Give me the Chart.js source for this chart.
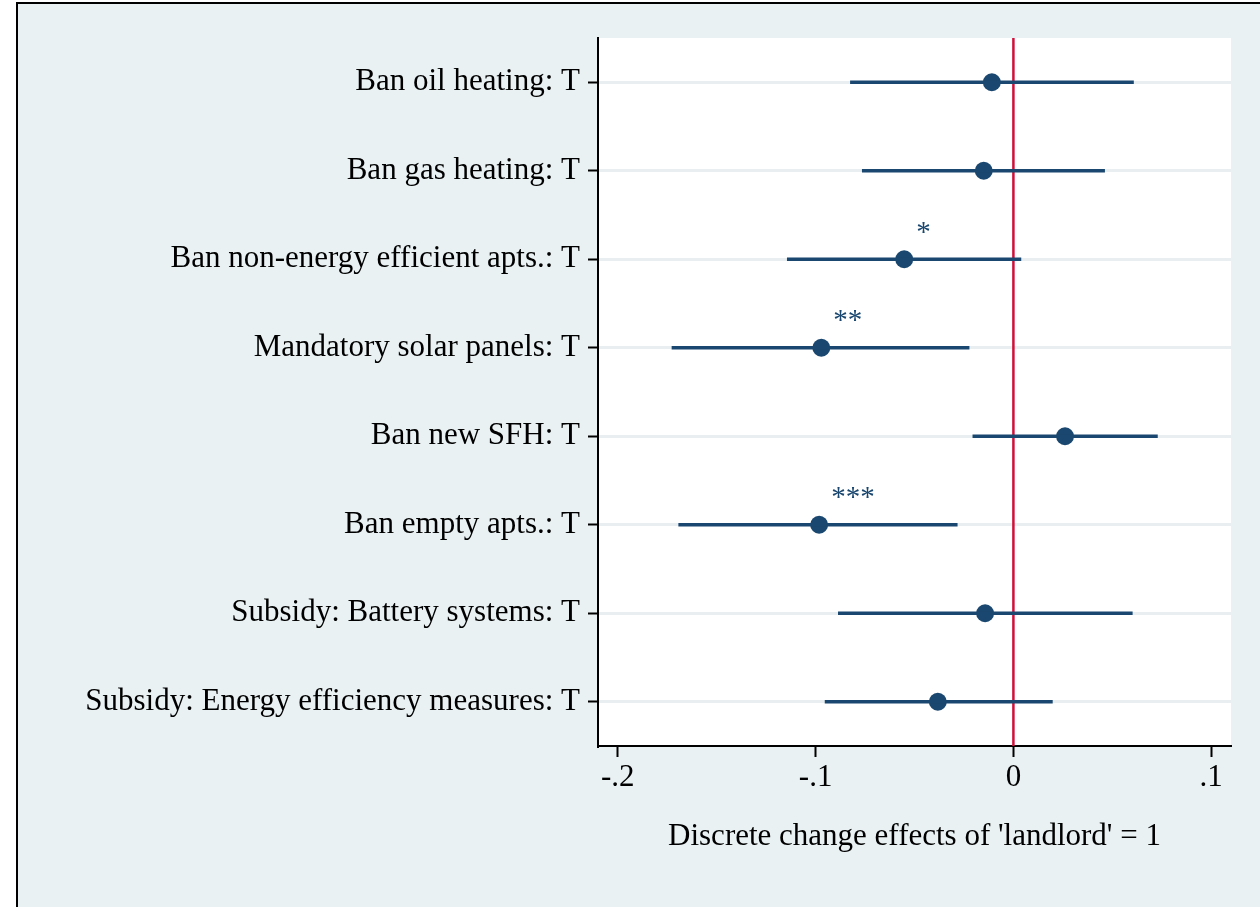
<!DOCTYPE html>
<html>
<head>
<meta charset="utf-8">
<script src="https://cdn.jsdelivr.net/npm/chart.js@4"></script>
<style>
  html, body { margin: 0; padding: 0; background: #ffffff; overflow: hidden; }
  #frame { position: absolute; left: 16px; top: 2px; width: 1300px; height: 960px;
           border: 2px solid #000; background: #e9f1f3; }
  #chart { position: absolute; left: 0; top: 0; }
</style>
</head>
<body>
<div id="frame"></div>
<canvas id="chart" width="1260" height="907"></canvas>
<script>
// policy rows, top to bottom
var labels = [
  'Ban oil heating: T',
  'Ban gas heating: T',
  'Ban non-energy efficient apts.: T',
  'Mandatory solar panels: T',
  'Ban new SFH: T',
  'Ban empty apts.: T',
  'Subsidy: Battery systems: T',
  'Subsidy: Energy efficiency measures: T'
];
var estimates = [-0.0109, -0.0150, -0.0552, -0.0971, 0.0261, -0.0982, -0.0143, -0.0382];
var lower     = [-0.0824, -0.0764, -0.1143, -0.1726, -0.0205, -0.1692, -0.0885, -0.0952];
var upper     = [ 0.0607,  0.0461,  0.0038, -0.0224,  0.0728, -0.0284,  0.0601,  0.0197];
var stars     = ['', '', '*', '**', '', '***', '', ''];
var xTicks    = [-0.2, -0.1, 0, 0.1];
var xTickText = ['-.2', '-.1', '0', '.1'];
var zeroLine  = 0;

var navy = '#1a476f';
var serif = '"Liberation Serif", "Times New Roman", serif';

var ciData = [];
for (var i = 0; i < labels.length; i++) {
  ciData.push([lower[i], upper[i]]);
}

var plotBg = {
  id: 'plotBg',
  beforeDraw: function(chart) {
    var a = chart.chartArea, c = chart.ctx;
    c.save();
    c.fillStyle = '#ffffff';
    c.fillRect(a.left, a.top, a.right - a.left, a.bottom - a.top);
    c.restore();
  }
};

var refLine = {
  id: 'refLine',
  beforeDatasetsDraw: function(chart) {
    var a = chart.chartArea, c = chart.ctx;
    var x = chart.scales.x.getPixelForValue(zeroLine);
    c.save();
    c.strokeStyle = '#d0103a';
    c.lineWidth = 2.5;
    c.beginPath();
    c.moveTo(x, a.top);
    c.lineTo(x, a.bottom);
    c.stroke();
    c.restore();
  },
  afterDatasetsDraw: function(chart) {
    // significance stars
    var c = chart.ctx;
    var meta = chart.getDatasetMeta(1);
    c.save();
    c.fillStyle = navy;
    c.font = '29px ' + serif;
    c.textAlign = 'left';
    c.textBaseline = 'middle';
    for (var i = 0; i < stars.length; i++) {
      if (!stars[i]) continue;
      var p = meta.data[i];
      c.fillText(stars[i], p.x + 12, p.y - 26);
    }
    c.restore();
  }
};

var ctx = document.getElementById('chart').getContext('2d');
new Chart(ctx, {
  type: 'bar',
  data: {
    labels: labels,
    datasets: [{
      data: ciData,
      backgroundColor: navy,
      barThickness: 3,
      indexAxis: 'y'
    }, {
      type: 'line',
      data: estimates,
      indexAxis: 'y',
      showLine: false,
      pointRadius: 9,
      pointBackgroundColor: navy,
      pointBorderColor: navy,
      pointBorderWidth: 0
    }]
  },
  options: {
    indexAxis: 'y',
    responsive: false,
    animation: false,
    layout: { padding: { top: 38, right: 29, left: 0, bottom: 0 } },
    plugins: {
      legend: { display: false },
      tooltip: { enabled: false }
    },
    scales: {
      y: {
        type: 'category',
        offset: true,
        afterFit: function(s) { s.width = 598; },
        grid: { offset: false, color: '#e9eff1', lineWidth: 3, tickColor: '#000', tickLength: 10, tickWidth: 2 },
        border: { color: '#000', width: 2 },
        ticks: { color: '#000', padding: 8, font: { family: serif, size: 31 } }
      },
      x: {
        type: 'linear',
        min: -0.21,
        max: 0.11,
        afterFit: function(s) { s.height = 161; },
        afterBuildTicks: function(s) {
          s.ticks = xTicks.map(function(v) { return { value: v }; });
        },
        grid: { drawOnChartArea: false, color: '#000', tickColor: '#000', tickLength: 11, tickWidth: 2 },
        border: { color: '#000', width: 2 },
        ticks: {
          color: '#000', padding: 2, maxRotation: 0, autoSkip: false,
          font: { family: serif, size: 31 },
          callback: function(v) { return xTickText[xTicks.indexOf(v)]; }
        },
        title: {
          display: true,
          text: "Discrete change effects of 'landlord' = 1",
          color: '#000',
          font: { family: serif, size: 31 },
          padding: { top: 0, bottom: 52 }
        }
      }
    }
  },
  plugins: [plotBg, refLine]
});
</script>
</body>
</html>
